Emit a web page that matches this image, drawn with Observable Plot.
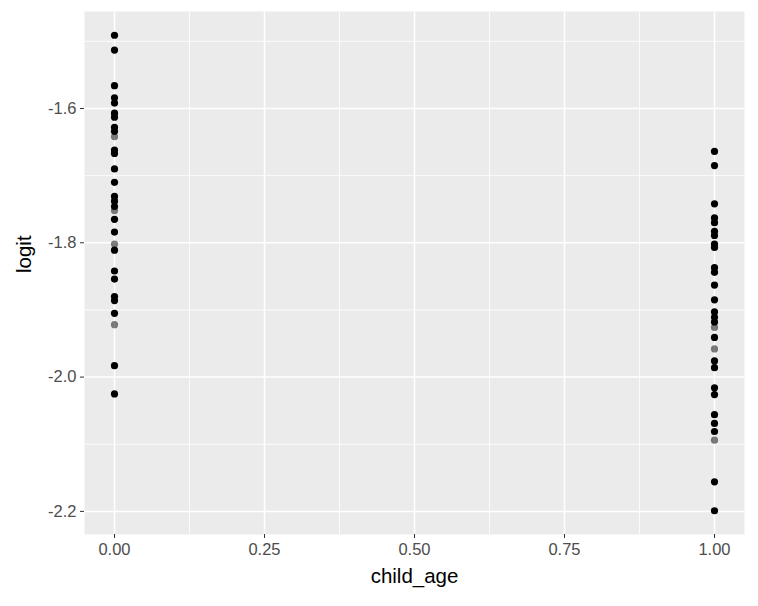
<!DOCTYPE html>
<html>
<head>
<meta charset="utf-8">
<script src="https://cdn.jsdelivr.net/npm/d3@7"></script>
<script src="https://cdn.jsdelivr.net/npm/@observablehq/plot@0.6"></script>
<style>
  html, body { margin: 0; padding: 0; background: #ffffff; }
  #chart svg { display: block; }
</style>
</head>
<body>
<div id="chart"></div>
<script>
// ---- data ----
const childAgeValues = [0, 1];
// logit values at child_age = 0 (dark = several overlapping observations)
const logitAge0 = [-1.491, -1.513, -1.566, -1.584, -1.592, -1.607, -1.613, -1.628, -1.634,
  -1.662, -1.667, -1.690, -1.710, -1.731, -1.738, -1.746, -1.765, -1.784, -1.811,
  -1.842, -1.854, -1.880, -1.886, -1.905, -1.983, -2.025];
// single (lighter) observations at child_age = 0
const logitAge0Single = [-1.642, -1.752, -1.802, -1.922];
// logit values at child_age = 1
const logitAge1 = [-1.664, -1.685, -1.742, -1.763, -1.770, -1.783, -1.789, -1.802, -1.807,
  -1.837, -1.844, -1.863, -1.885, -1.903, -1.911, -1.918, -1.941, -1.976, -1.986,
  -2.016, -2.026, -2.056, -2.069, -2.081, -2.156, -2.199];
const logitAge1Single = [-1.926, -1.958, -2.094];

const xTicks = [0, 0.25, 0.5, 0.75, 1];
const xMinor = [0.125, 0.375, 0.625, 0.875];
const yTicks = [-2.2, -2.0, -1.8, -1.6];
const yMinor = [-2.1, -1.9, -1.7, -1.5];

// build tables
const dense = [
  ...logitAge0.map(v => ({child_age: childAgeValues[0], logit: v})),
  ...logitAge1.map(v => ({child_age: childAgeValues[1], logit: v}))
];
const single = [
  ...logitAge0Single.map(v => ({child_age: childAgeValues[0], logit: v})),
  ...logitAge1Single.map(v => ({child_age: childAgeValues[1], logit: v}))
];

const all = dense.concat(single);
const xr = d3.extent(all, d => d.child_age);
const yr = d3.extent(all, d => d.logit);
const xPad = (xr[1] - xr[0]) * 0.05;
const yPad = (yr[1] - yr[0]) * 0.05;

const font = "'Liberation Sans', Arial, sans-serif";

const chart = Plot.plot({
  width: 758,
  height: 606,
  marginLeft: 84,
  marginRight: 14,
  marginTop: 11,
  marginBottom: 72,
  style: {fontFamily: font, background: "#ffffff", overflow: "visible"},
  x: {domain: [xr[0] - xPad, xr[1] + xPad]},
  y: {domain: [yr[0] - yPad, yr[1] + yPad]},
  marks: [
    Plot.frame({fill: "#EBEBEB", stroke: null}),
    Plot.ruleY(yMinor, {stroke: "#ffffff", strokeWidth: 0.8}),
    Plot.ruleX(xMinor, {stroke: "#ffffff", strokeWidth: 0.8}),
    Plot.ruleY(yTicks, {stroke: "#ffffff", strokeWidth: 1.5}),
    Plot.ruleX(xTicks, {stroke: "#ffffff", strokeWidth: 1.5}),
    Plot.dot(single, {x: "child_age", y: "logit", r: 3.6, fill: "#000000", fillOpacity: 0.5, stroke: null}),
    Plot.dot(dense, {x: "child_age", y: "logit", r: 3.6, fill: "#000000", stroke: null}),
    Plot.axisX(xTicks, {tickFormat: d3.format(".2f"), tickSize: 4, tickPadding: 5,
      fontSize: 16.5, color: "#4D4D4D", stroke: "#333333", label: null}),
    Plot.axisY(yTicks, {tickFormat: d => d.toFixed(1), tickSize: 4, tickPadding: 4,
      fontSize: 16.5, color: "#4D4D4D", stroke: "#333333", label: null}),
    Plot.text(["child_age"], {frameAnchor: "bottom", dy: 48, text: d => d,
      fontSize: 20.5, fill: "#000000", fontFamily: font}),
    Plot.text(["logit"], {frameAnchor: "left", dx: -60, rotate: -90, text: d => d,
      fontSize: 20.5, fill: "#000000", fontFamily: font})
  ]
});
document.getElementById("chart").appendChild(chart);
</script>
</body>
</html>
